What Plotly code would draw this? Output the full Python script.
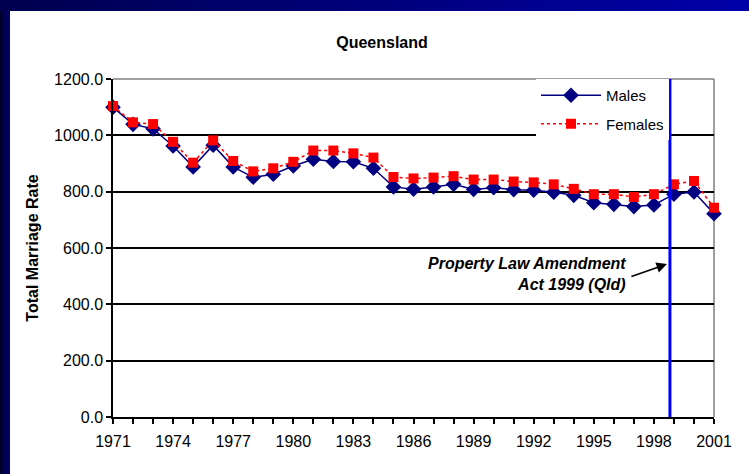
import plotly.graph_objects as go

years = list(range(1971, 2002))
males = [1100, 1039, 1023, 962, 888, 965, 888, 851, 862, 891, 915, 907, 906, 883, 817,
         809, 817, 826, 808, 814, 807, 805, 798, 787, 761, 755, 747, 753, 791, 799, 722]
females = [1104, 1046, 1040, 977, 903, 982, 909, 872, 883, 906, 946, 946, 936, 921, 852,
           847, 850, 855, 843, 843, 836, 833, 826, 810, 791, 791, 781, 791, 826, 838, 743]
x_ticks = list(range(1971, 2002, 3))
y_ticks = [0, 200, 400, 600, 800, 1000, 1200]
amendment_year = 1998.8
annotation_text = "Property Law Amendment<br>Act 1999 (Qld)"

W, H = 749, 474
L, R, T, B = 113, 35, 79, 57
PW, PH = W - L - R, H - T - B
FONT = "Liberation Sans, Arial, sans-serif"

fig = go.Figure()
fig.add_trace(go.Scatter(
    x=years, y=males, name="Males", mode="lines+markers", legendgroup="m",
    line=dict(color="#000080", width=1.5),
    marker=dict(symbol="diamond", size=12, color="#000080"),
    cliponaxis=False))
fig.add_trace(go.Scatter(
    x=years, y=females, name="Females", mode="lines+markers", legendgroup="f",
    line=dict(color="#ff0000", width=1.5, dash="dot"),
    marker=dict(symbol="square", size=10, color="#ff0000"),
    cliponaxis=False))

shapes = []
shapes.append(dict(type="line", xref="paper", yref="paper", x0=0, x1=1, y0=1, y1=1,
                   line=dict(color="#808080", width=1.5), layer="above"))
shapes.append(dict(type="line", xref="paper", yref="paper", x0=1, x1=1, y0=0, y1=1,
                   line=dict(color="#808080", width=1.5), layer="below"))
shapes.append(dict(type="line", xref="x", yref="paper", x0=amendment_year, x1=amendment_year,
                   y0=0, y1=1, line=dict(color="#0000ff", width=3), layer="above"))


def px2x(p):
    return (p - L) / PW


def py2y(p):
    return 1 - (p - T) / PH


shapes.append(dict(type="rect", xref="paper", yref="paper", x0=px2x(0), x1=px2x(10),
                   y0=py2y(H), y1=py2y(0), fillcolor="#000058", line=dict(width=0), layer="below"))
shapes.append(dict(type="rect", xref="paper", yref="paper", x0=px2x(0), x1=px2x(3),
                   y0=py2y(H), y1=py2y(0), fillcolor="#000030", line=dict(width=0), layer="below"))
n = 40
c0 = (0, 0, 0x50)
c1 = (0, 0, 0xa8)
for i in range(n):
    t = i / (n - 1)
    col = tuple(int(c0[k] + (c1[k] - c0[k]) * t) for k in range(3))
    x0 = W * i / n
    x1 = W * (i + 1) / n + 1
    shapes.append(dict(type="rect", xref="paper", yref="paper", x0=px2x(x0), x1=px2x(x1),
                       y0=py2y(11), y1=py2y(0), fillcolor="rgb(%d,%d,%d)" % col,
                       line=dict(width=0), layer="below"))

annotations = [
    dict(x=1996.7, y=507, xref="x", yref="y", text="<b><i>" + annotation_text + "</i></b>",
         showarrow=False, xanchor="right", yanchor="middle", align="right",
         font=dict(family=FONT, size=16, color="black")),
    dict(x=1998.65, y=543, xref="x", yref="y", text="", showarrow=True,
         ax=-37, ay=13, arrowhead=2, arrowsize=1.3, arrowwidth=1.6, arrowcolor="black",
         standoff=0),
]

fig.update_layout(
    width=W, height=H,
    margin=dict(l=L, r=R, t=T, b=B),
    paper_bgcolor="white", plot_bgcolor="white",
    font=dict(family=FONT, size=16, color="black"),
    title=dict(text="<b>Queensland</b>", x=382 / W, xref="container", xanchor="center",
               y=1 - 42 / H, yref="container", yanchor="middle",
               font=dict(family=FONT, size=16, color="black")),
    showlegend=True,
    legend=dict(x=px2x(536), y=1, xanchor="left", yanchor="top", bgcolor="white",
                borderwidth=0, font=dict(family=FONT, size=15, color="black"),
                itemwidth=60, tracegroupgap=6, traceorder="grouped"),
    shapes=shapes,
    annotations=annotations,
)
fig.update_xaxes(range=[1971, 2001], tickvals=x_ticks, ticktext=[str(v) for v in x_ticks],
                 ticks="outside", ticklen=5, tickwidth=1.5, tickcolor="black",
                 showline=True, linecolor="black", linewidth=1.5, showgrid=False,
                 zeroline=False, tickfont=dict(size=16), ticklabelstandoff=4,
                 minor=dict(tickvals=years, ticks="outside", ticklen=5, tickwidth=1.5,
                            tickcolor="black", showgrid=False))
fig.update_yaxes(range=[0, 1200], tickvals=y_ticks, tickformat=".1f",
                 ticks="outside", ticklen=5, tickwidth=1.5, tickcolor="black",
                 showline=True, linecolor="black", linewidth=1.5,
                 showgrid=True, gridcolor="black", gridwidth=1.5, zeroline=False,
                 tickfont=dict(size=16),
                 title=dict(text="<b>Total Marriage Rate</b>", standoff=12,
                            font=dict(size=16)))

fig.write_html("out.html", config={"displayModeBar": False},
               post_script="document.body.style.margin='0';document.body.style.overflow='hidden';")
